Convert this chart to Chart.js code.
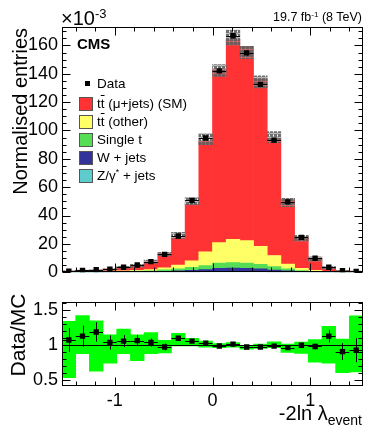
<!DOCTYPE html>
<html>
<head>
<meta charset="utf-8">
<script src="https://cdn.jsdelivr.net/npm/chart.js@4.4.1/dist/chart.umd.min.js"></script>
<style>
  body { margin: 0; background: #fff; }
  #wrap { position: relative; width: 374px; height: 433px; overflow: hidden;
          font-family: 'Liberation Sans', Arial, sans-serif; color: #000; }
  canvas { position: absolute; left: 0; }
  .txt { position: absolute; white-space: nowrap; line-height: 1; }
  .row { position: absolute; left: 79px; height: 14px; line-height: 14px; font-size: 13.5px; white-space: nowrap; }
  .box { position: absolute; left: 0; top: 0; width: 12px; height: 12px; border: 1px solid #555; }
  .row span.t { position: absolute; left: 18px; top: 0; }
  .ov { text-decoration: overline; }
  sup { font-size: 65%; vertical-align: 0; position: relative; top: -0.55em; }
</style>
</head>
<body>
<div id="wrap">
  <canvas id="main" width="374" height="287" style="top:0"></canvas>
  <canvas id="ratio" width="374" height="146" style="top:287px"></canvas>
  <div class="txt" style="left:61px; top:8px; font-size:20px;">×10<sup style="font-size:13px">-3</sup></div>
  <div class="txt" style="right:12px; top:11px; font-size:12.5px;">19.7 fb<sup>-1</sup> (8 TeV)</div>
  <div class="txt" style="left:77px; top:36px; font-size:15px; font-weight:bold;">CMS</div>
  <div id="legend"></div>
</div>
<script>
// bin centres of -2ln(lambda_event), 22 bins of width 0.14
const binCentres = [-1.47, -1.33, -1.19, -1.05, -0.91, -0.77, -0.63, -0.49, -0.35, -0.21, -0.07,
                    0.07, 0.21, 0.35, 0.49, 0.63, 0.77, 0.91, 1.05, 1.19, 1.33, 1.47];

// normalised entries, x 1e-3
const dataValues = [0.8, 1.2, 1.7, 2.2, 3.5, 5.1, 7.5, 12.6, 25.5, 50.6, 94.7,
                    142.0, 166.8, 154.7, 132.5, 93.2, 49.6, 24.6, 9.8, 3.5, 1.0, 0.5];
const ttSignal  = [0.44, 0.66, 0.89, 1.37, 2.3, 3.45, 5.4, 10.1, 19.0, 40.0, 78.0,
                   122.0, 141.0, 137.0, 118.0, 82.7, 45.6, 22.1, 8.6, 2.5, 0.8, 0.38];
const ttOther   = [0.1, 0.15, 0.2, 0.3, 0.45, 0.6, 0.8, 1.4, 2.7, 4.6, 9.7,
                   14.5, 16.4, 15.9, 12.7, 7.9, 3.4, 1.6, 0.8, 0.3, 0.12, 0.06];
const singleTop = [0.08, 0.1, 0.15, 0.2, 0.25, 0.35, 0.5, 0.95, 1.3, 2.15, 2.8,
                   3.75, 3.85, 3.65, 3.2, 2.35, 1.4, 0.55, 0.3, 0.15, 0.08, 0.05];
const wJets     = [0.1, 0.12, 0.15, 0.2, 0.25, 0.3, 0.4, 0.5, 0.8, 1.0, 1.5,
                   2.3, 2.6, 2.4, 2.0, 1.3, 0.7, 0.4, 0.2, 0.1, 0.05, 0.03];
const zJets     = [0.02, 0.03, 0.04, 0.05, 0.06, 0.08, 0.1, 0.15, 0.2, 0.25, 0.3,
                   0.35, 0.35, 0.35, 0.3, 0.25, 0.2, 0.15, 0.1, 0.05, 0.03, 0.02];

// Data/MC panel
const ratioValues = [1.075, 1.13, 1.19, 1.04, 1.06, 1.067, 1.04, 0.975, 1.1, 1.06, 1.03,
                     0.99, 1.017, 0.975, 0.975, 0.988, 0.967, 1.0, 0.983, 1.13, 0.91, 0.93];
const ratioErrors = [0.17, 0.15, 0.14, 0.1, 0.085, 0.08, 0.06, 0.05, 0.03, 0.02, 0.015,
                     0.012, 0.012, 0.012, 0.012, 0.015, 0.02, 0.02, 0.04, 0.09, 0.12, 0.17];
const bandLow  = [0.54, 0.88, 0.63, 0.745, 0.88, 0.78, 0.88, 0.89, 0.99, 0.99, 0.975,
                  0.967, 0.975, 0.946, 0.954, 0.967, 0.9, 0.883, 0.76, 0.745, 0.61, 0.62];
const bandHigh = [1.34, 1.425, 1.35, 1.15, 1.23, 1.15, 1.18, 1.07, 1.17, 1.1, 1.06,
                  1.025, 1.04, 1.0, 1.017, 1.05, 1.017, 1.046, 1.08, 1.27, 1.09, 1.42];

// ticks
const xTickValues = [-1, 0, 1];
const yTickValues = [0, 20, 40, 60, 80, 100, 120, 140, 160];
const ratioTickValues = [0.5, 1, 1.5];

const BIN_W = 0.14;
const X_MIN = -1.54, X_MAX = 1.54;

const colours = {
  ttSignal: '#ff3333',
  ttOther: '#ffff66',
  singleTop: '#55dd55',
  wJets: '#333399',
  zJets: '#5ccccc',
  band: '#00ff00'
};

Chart.defaults.font.family = "'Liberation Sans', Arial, sans-serif";
Chart.defaults.color = '#000';

const mcTotal = ttSignal.map((v, i) => v + ttOther[i] + singleTop[i] + wJets[i] + zJets[i]);
const xy = arr => binCentres.map((x, i) => ({ x: x, y: arr[i] }));

function makeHatch() {
  const c = document.createElement('canvas');
  c.width = 4; c.height = 4;
  const g = c.getContext('2d');
  g.fillStyle = 'rgba(95,95,95,0.9)';
  g.fillRect(0, 0, 4, 4);
  g.clearRect(0, 1, 4, 1);
  g.clearRect(1, 0, 1, 4);
  g.fillStyle = 'rgba(140,140,140,0.55)';
  g.fillRect(0, 1, 4, 1);
  g.fillRect(1, 0, 1, 3);
  return g.createPattern(c, 'repeat');
}

// frame + inward ROOT style ticks
function drawFrame(chart, yMajor, yMinorStep, yMin, yMax) {
  const { ctx, chartArea: a, scales: { x, y } } = chart;
  const L = Math.round(a.left) + 0.5, R = Math.round(a.right) - 0.5;
  const T = Math.round(a.top) + 0.5, B = Math.round(a.bottom) - 0.5;
  ctx.save();
  ctx.strokeStyle = '#000';
  ctx.lineWidth = 1;
  ctx.beginPath();
  for (let v = Math.ceil(yMin / yMinorStep) * yMinorStep; v <= yMax + 1e-9; v += yMinorStep) {
    const major = yMajor.some(m => Math.abs(m - v) < 1e-6);
    const len = major ? 8 : 4;
    const py = Math.round(y.getPixelForValue(v)) + 0.5;
    ctx.moveTo(L, py); ctx.lineTo(L + len, py);
    ctx.moveTo(R, py); ctx.lineTo(R - len, py);
  }
  for (let k = -7; k <= 7; k++) {
    const v = k * 0.2;
    const major = xTickValues.some(m => Math.abs(m - v) < 1e-6);
    const len = major ? 8 : 4;
    const px = Math.round(x.getPixelForValue(v)) + 0.5;
    ctx.moveTo(px, B); ctx.lineTo(px, B - len);
    ctx.moveTo(px, T); ctx.lineTo(px, T + len);
  }
  ctx.stroke();
  ctx.strokeRect(L, T, R - L, B - T);
  ctx.restore();
}

function drawErrorBars(chart, values, errors) {
  const { ctx, scales: { x, y } } = chart;
  ctx.save();
  ctx.strokeStyle = '#000';
  ctx.lineWidth = 1;
  ctx.beginPath();
  binCentres.forEach((c, i) => {
    const py = Math.round(y.getPixelForValue(values[i])) + 0.5;
    const px = Math.round(x.getPixelForValue(c)) + 0.5;
    ctx.moveTo(x.getPixelForValue(c - BIN_W / 2), py);
    ctx.lineTo(x.getPixelForValue(c + BIN_W / 2), py);
    ctx.moveTo(px, y.getPixelForValue(values[i] - errors[i]));
    ctx.lineTo(px, y.getPixelForValue(values[i] + errors[i]));
  });
  ctx.stroke();
  ctx.restore();
}

const barCommon = { type: 'bar', grouped: false, barPercentage: 1, categoryPercentage: 1, borderWidth: 0 };
const pointCommon = { type: 'line', showLine: false, pointStyle: 'rect', pointRadius: 3.8,
                      pointBackgroundColor: '#000', pointBorderWidth: 0 };

const xScale = (show) => ({
  type: 'linear', min: X_MIN, max: X_MAX, offset: false, bounds: 'data', display: show,
  grid: { display: false, drawTicks: false, offset: false }, border: { display: false },
  ticks: { font: { size: 18 }, padding: 4, maxRotation: 0, autoSkip: false },
  afterBuildTicks: s => { s.ticks = xTickValues.map(v => ({ value: v })); },
  afterFit: s => { if (show) s.height = 47; }
});

// 1. main panel
new Chart(document.getElementById('main'), {
  type: 'bar',
  data: {
    datasets: [
      Object.assign({ label: 'Data', data: xy(dataValues), stack: 'data' }, pointCommon),
      Object.assign({ label: 'MC uncertainty', stack: 'band', backgroundColor: makeHatch(),
        data: binCentres.map((x, i) => ({ x: x, y: [mcTotal[i] * bandLow[i], mcTotal[i] * bandHigh[i]] })) }, barCommon),
      Object.assign({ label: 'Z/γ* + jets', data: xy(zJets), stack: 'mc', backgroundColor: colours.zJets }, barCommon),
      Object.assign({ label: 'W + jets', data: xy(wJets), stack: 'mc', backgroundColor: colours.wJets }, barCommon),
      Object.assign({ label: 'Single t', data: xy(singleTop), stack: 'mc', backgroundColor: colours.singleTop }, barCommon),
      Object.assign({ label: 'tt (other)', data: xy(ttOther), stack: 'mc', backgroundColor: colours.ttOther }, barCommon),
      Object.assign({ label: 'tt (mu+jets) (SM)', data: xy(ttSignal), stack: 'mc', backgroundColor: colours.ttSignal }, barCommon)
    ]
  },
  options: {
    responsive: false,
    animation: false,
    layout: { padding: { top: 27, bottom: 7, right: 11, left: 0 } },
    plugins: { legend: { display: false }, tooltip: { enabled: false } },
    scales: {
      x: xScale(false),
      y: { type: 'linear', min: 0, max: 173, stacked: true,
           grid: { display: false, drawTicks: false }, border: { display: false },
           ticks: { font: { size: 18 }, padding: 4 },
           afterBuildTicks: s => { s.ticks = yTickValues.map(v => ({ value: v })); },
           afterFit: s => { s.width = 62; } }
    }
  },
  plugins: [{
    id: 'mainDecor',
    afterDatasetsDraw(chart) {
      drawErrorBars(chart, dataValues, dataValues.map((v, i) => v * ratioErrors[i]));
      drawFrame(chart, yTickValues, 5, 0, 173);
      const ctx = chart.ctx;
      ctx.save();
      ctx.fillStyle = '#000';
      ctx.font = "20px 'Liberation Sans', Arial, sans-serif";
      ctx.translate(27, 28);
      ctx.rotate(-Math.PI / 2);
      ctx.textAlign = 'right';
      ctx.textBaseline = 'alphabetic';
      ctx.fillText('Normalised entries', 0, 0);
      ctx.restore();
    }
  }]
});

// 2. ratio panel
new Chart(document.getElementById('ratio'), {
  type: 'bar',
  data: {
    datasets: [
      Object.assign({ label: 'Data/MC', data: xy(ratioValues) }, pointCommon),
      Object.assign({ label: 'MC uncertainty', backgroundColor: colours.band,
        data: binCentres.map((x, i) => ({ x: x, y: [bandLow[i], bandHigh[i]] })) }, barCommon)
    ]
  },
  options: {
    responsive: false,
    animation: false,
    layout: { padding: { top: 3, bottom: 0, right: 11, left: 0 } },
    plugins: { legend: { display: false }, tooltip: { enabled: false } },
    scales: {
      x: xScale(true),
      y: { type: 'linear', min: 0.42, max: 1.62,
           grid: { display: false, drawTicks: false }, border: { display: false },
           ticks: { font: { size: 18 }, padding: 4, callback: v => String(v) },
           afterBuildTicks: s => { s.ticks = ratioTickValues.map(v => ({ value: v })); },
           afterFit: s => { s.width = 62; } }
    }
  },
  plugins: [{
    id: 'ratioDecor',
    afterDatasetsDraw(chart) {
      const { ctx, chartArea: a, scales: { y } } = chart;
      ctx.save();
      ctx.strokeStyle = '#000';
      ctx.lineWidth = 1;
      const p1 = Math.round(y.getPixelForValue(1)) + 0.5;
      ctx.beginPath();
      ctx.moveTo(a.left, p1); ctx.lineTo(a.right, p1);
      ctx.stroke();
      ctx.restore();
      drawErrorBars(chart, ratioValues, ratioErrors);
      drawFrame(chart, ratioTickValues, 0.1, 0.42, 1.62);

      ctx.save();
      ctx.fillStyle = '#000';
      ctx.font = "21px 'Liberation Sans', Arial, sans-serif";
      ctx.translate(25, 48);
      ctx.rotate(-Math.PI / 2);
      ctx.textAlign = 'center';
      ctx.fillText('Data/MC', 0, 0);
      ctx.restore();

      // x title: -2ln lambda_event
      ctx.save();
      ctx.fillStyle = '#000';
      ctx.textAlign = 'left';
      ctx.font = "14px 'Liberation Sans', Arial, sans-serif";
      const subW = ctx.measureText('event').width;
      ctx.font = "20px 'Liberation Sans', Arial, sans-serif";
      const mainW = ctx.measureText('-2ln λ').width;
      const x0 = 362 - subW - mainW;
      ctx.fillText('-2ln λ', x0, 133);
      ctx.font = "14px 'Liberation Sans', Arial, sans-serif";
      ctx.fillText('event', x0 + mainW, 138);
      ctx.restore();
    }
  }]
});

// legend
const legendRows = [
  { html: 't<span class="ov">t</span> (μ+jets) (SM)', colour: colours.ttSignal, y: 104 },
  { html: 't<span class="ov">t</span> (other)', colour: colours.ttOther, y: 122 },
  { html: 'Single t', colour: colours.singleTop, y: 140 },
  { html: 'W + jets', colour: colours.wJets, y: 158 },
  { html: 'Z/γ<sup>*</sup> + jets', colour: colours.zJets, y: 176 }
];
const leg = document.getElementById('legend');
let html = '<div class="row" style="top:77px"><span style="position:absolute;left:6px;top:4px;width:5px;height:5px;background:#000"></span><span class="t">Data</span></div>';
legendRows.forEach(r => {
  html += '<div class="row" style="top:' + (r.y - 7) + 'px"><span class="box" style="background:' + r.colour +
          '"></span><span class="t">' + r.html + '</span></div>';
});
leg.innerHTML = html;
</script>
</body>
</html>
